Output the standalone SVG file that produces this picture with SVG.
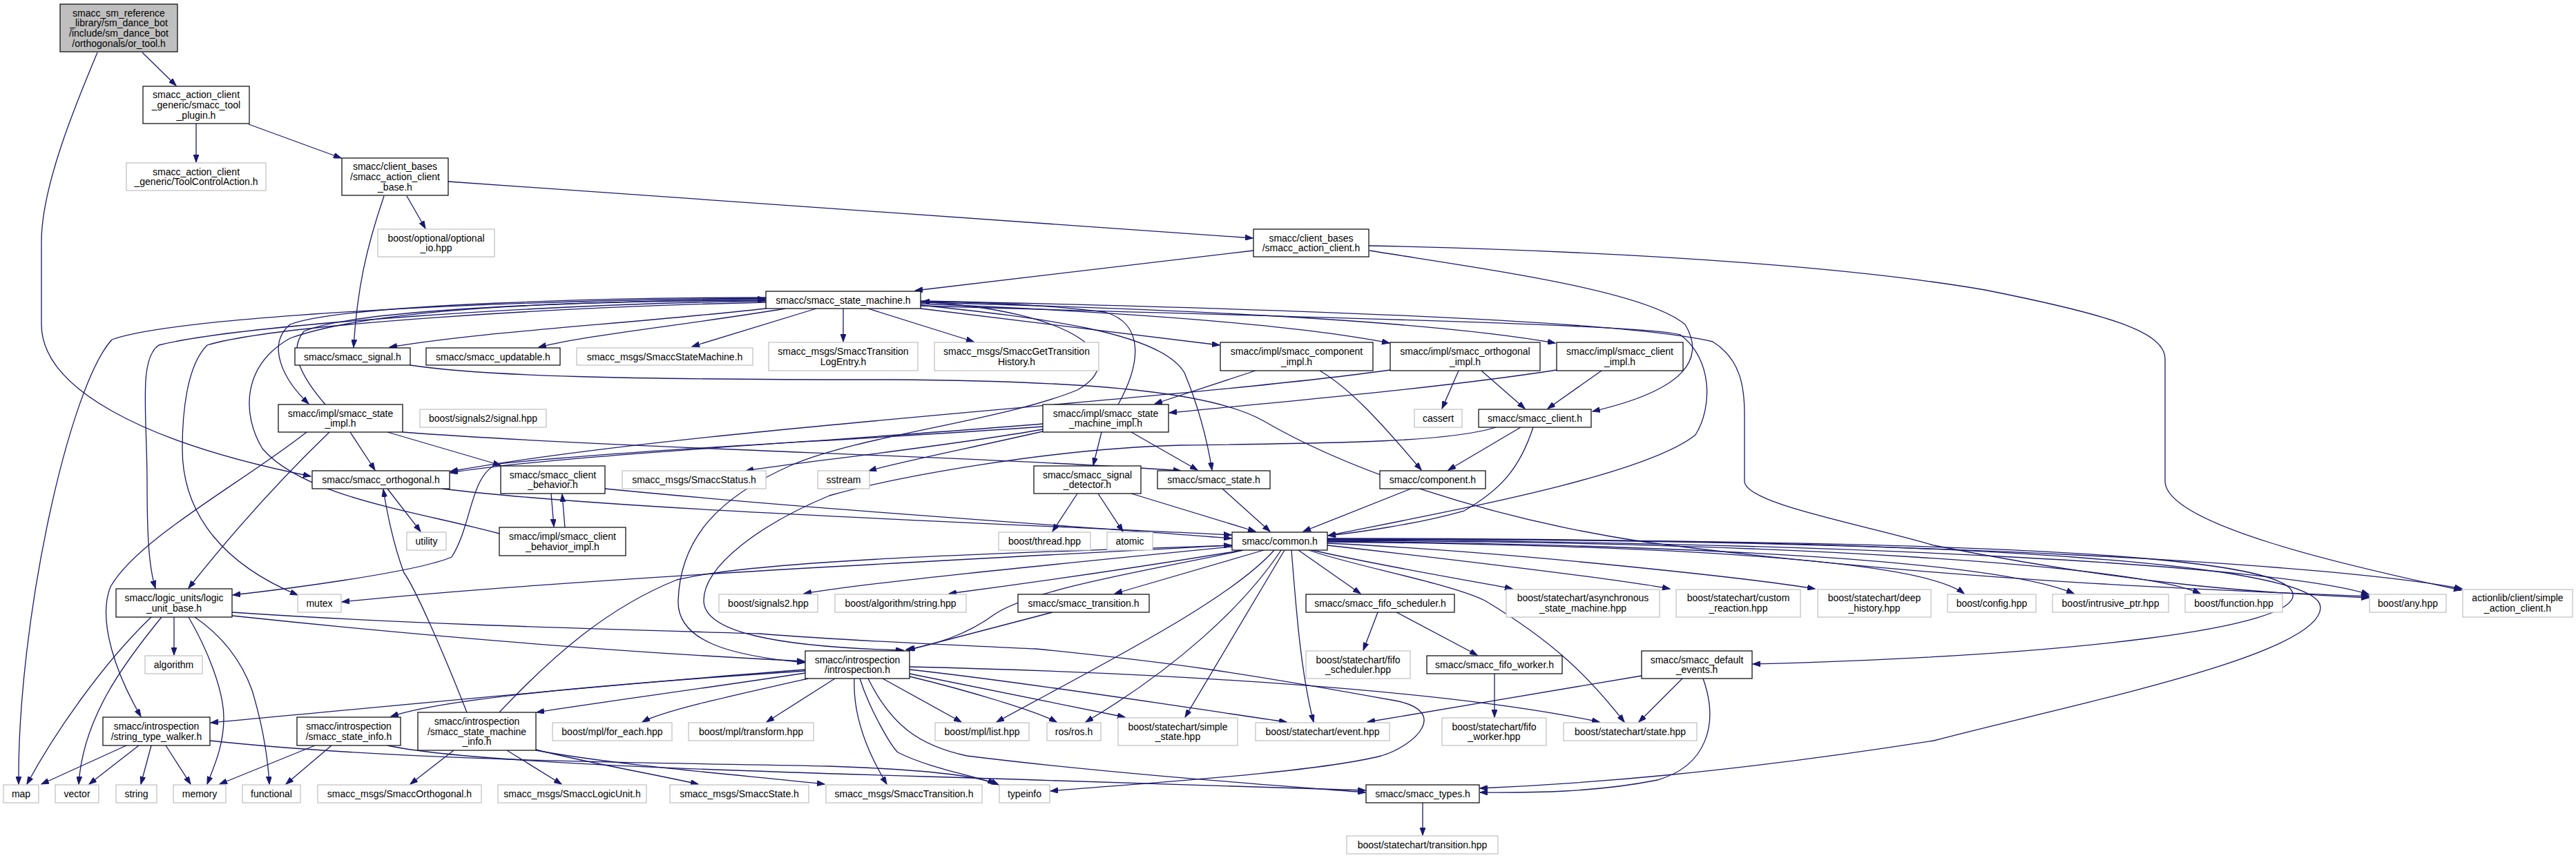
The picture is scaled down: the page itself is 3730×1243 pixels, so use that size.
<svg xmlns="http://www.w3.org/2000/svg" width="3730" height="1243" viewBox="0 0 3730 1243">
<style>
.n rect{fill:#fff;stroke:#000;stroke-width:1.2}
.g rect{fill:#fff;stroke:#bfbfbf;stroke-width:1.2}
.r rect{fill:#bfbfbf;stroke:#000;stroke-width:1.2}
text{font-family:"Liberation Sans",Arial,sans-serif;font-size:14px;fill:#000;text-anchor:middle}
#edges path{fill:none;stroke:#191970;stroke-width:1.3;marker-end:url(#ah)}
</style>
<defs>
<marker id="ah" markerUnits="userSpaceOnUse" markerWidth="12" markerHeight="8" refX="11" refY="4" orient="auto">
<path d="M0,0 L11,4 L0,8 z" fill="#191970" stroke="#191970"/>
</marker>
</defs>
<rect width="3730" height="1243" fill="#fff"/>
<g id="edges">
<path d="M206,76 L255,124"/>
<path d="M141,76 C110,150 60,270 60,350 L60,470 C60,560 200,640 450,690"/>
<path d="M284,179 L284,235"/>
<path d="M360,180 L494,229"/>
<path d="M589,284 L616,331"/>
<path d="M556,284 C530,360 517,420 512,503"/>
<path d="M649,263 C1000,290 1500,320 1814,345"/>
<path d="M1815,363 L1325,421"/>
<path d="M1983,363 C2150,390 2380,420 2440,470 C2470,520 2440,565 2306,596"/>
<path d="M1982,356 C2400,365 2700,390 2874,420 C3050,455 3135,480 3135,520 L3135,697 C3135,760 3400,820 3564,855"/>
<path d="M1109,447 C900,470 700,480 564,503"/>
<path d="M1137,447 C1000,470 850,485 780,503"/>
<path d="M1182,447 L1002,502"/>
<path d="M1221,447 L1221,495"/>
<path d="M1257,447 L1410,495"/>
<path d="M1333,447 L1766,500"/>
<path d="M1333,440 C1700,455 1900,475 2012,497"/>
<path d="M1333,438 C1800,450 2100,470 2252,497"/>
<path d="M1818,537 L1672,585"/>
<path d="M2254,536 C2100,560 1900,578 1693,598"/>
<path d="M2013,536 C1700,580 1000,620 652,683"/>
<path d="M2112,537 L2088,592"/>
<path d="M2145,537 L2208,592"/>
<path d="M2319,537 L2241,592"/>
<path d="M1911,537 C1950,560 1990,600 2058,681"/>
<path d="M2202,619 L2097,681"/>
<path d="M2220,619 C2200,680 2172,710 2120,740 C2050,760 1960,772 1923,776"/>
<path d="M2043,708 L1887,770"/>
<path d="M2166,619 C2100,640 1951,642 1710,645 C1523,650 1300,690 1201,718 C1100,760 1019,820 1019,870 C1019,915 1120,937 1308,942"/>
<path d="M1333,443 C1900,460 2380,470 2433,485 C2480,520 2480,590 2455,630 C2380,690 2100,740 1923,776"/>
<path d="M1333,436 C2000,450 2380,470 2480,495 C2520,520 2526,560 2526,600 L2526,697 C2526,730 2700,760 2800,790 C3100,850 3300,860 3430,866"/>
<path d="M1333,442 C1500,460 1680,480 1715,540 C1740,600 1750,650 1755,681"/>
<path d="M1619,586 C1650,530 1660,470 1600,452 C1500,440 1400,437 1335,437"/>
<path d="M1333,437 C1560,450 1640,520 1560,565 C1450,610 1250,630 1148,673 C1040,720 985,780 982,870 C980,930 1060,950 1165,960"/>
<path d="M594,529 C700,545 900,550 1290,550 C1600,552 1760,570 1830,610 C1950,680 2150,750 2380,785 C2800,840 3200,855 3432,864"/>
<path d="M1510,625 C1400,650 1300,670 1258,682"/>
<path d="M1510,622 C1350,650 1150,670 1080,682"/>
<path d="M1595,626 L1583,674"/>
<path d="M1638,626 L1734,681"/>
<path d="M1510,614 C1200,640 800,660 652,685"/>
<path d="M1510,618 C1200,640 940,650 720,672 C680,690 684,760 654,807 C600,830 400,855 337,862"/>
<path d="M1560,715 L1524,770"/>
<path d="M1590,715 L1626,770"/>
<path d="M1638,715 L1818,770"/>
<path d="M1770,708 L1839,770"/>
<path d="M640,708 C900,740 1500,760 1783,775"/>
<path d="M561,708 L609,770"/>
<path d="M798,715 L802,763"/>
<path d="M818,764 L814,716"/>
<path d="M876,708 C1200,740 1600,765 1783,780"/>
<path d="M723,773 C600,740 440,720 380,650 C350,600 350,530 420,490 C560,440 900,436 1108,435"/>
<path d="M471,586 C440,550 415,510 440,480 C520,445 900,436 1108,433"/>
<path d="M1109,431 C900,431 500,440 420,470 C385,500 410,550 447,585"/>
<path d="M507,626 L543,681"/>
<path d="M561,626 L725,674"/>
<path d="M583,626 C900,650 1400,660 1710,682"/>
<path d="M477,626 C400,700 330,780 273,852"/>
<path d="M444,626 C350,700 200,780 160,850 C140,900 170,980 204,1038"/>
<path d="M1109,436 C800,440 350,470 230,500 C200,520 213,600 213,700 C213,770 215,820 225,852"/>
<path d="M1109,438 C800,445 400,470 300,500 C270,530 264,600 264,650 C264,750 330,820 431,862"/>
<path d="M1109,432 C700,435 250,460 162,492 C100,560 25,900 27,1136"/>
<path d="M252,894 L252,949"/>
<path d="M219,894 C150,960 80,1060 39,1136"/>
<path d="M234,894 C180,960 120,1040 114,1136"/>
<path d="M273,894 C300,940 324,1000 324,1040 C324,1080 310,1110 300,1136"/>
<path d="M282,894 C320,920 348,953 365,1000 C380,1050 388,1100 390,1136"/>
<path d="M336,892 C600,920 900,945 1165,958"/>
<path d="M336,887 C600,905 900,912 1100,918 C1250,930 1400,935 1500,940 C1700,960 1800,975 2020,1015 C2100,1030 2050,1080 2000,1095 C1900,1120 1650,1135 1521,1146"/>
<path d="M1784,790 C1400,810 800,840 495,872"/>
<path d="M183,1080 L60,1136"/>
<path d="M201,1080 L129,1136"/>
<path d="M219,1080 L204,1136"/>
<path d="M240,1080 L276,1136"/>
<path d="M304,1073 C600,1105 1000,1105 1200,1110 C1350,1115 1420,1125 1446,1137"/>
<path d="M456,1080 L318,1136"/>
<path d="M480,1080 L414,1136"/>
<path d="M561,1080 C700,1110 1200,1120 1500,1130 C1800,1138 1900,1143 1977,1145"/>
<path d="M657,1087 L594,1136"/>
<path d="M734,1087 L813,1136"/>
<path d="M776,1086 C850,1105 940,1120 1011,1136"/>
<path d="M776,1087 C900,1110 1100,1125 1194,1136"/>
<path d="M676,1032 C640,940 600,850 585,830 C570,790 560,740 555,709"/>
<path d="M723,1032 C800,950 880,880 980,840 C1100,810 1500,800 1783,790"/>
<path d="M1166,970 C900,990 600,1020 305,1047"/>
<path d="M1166,972 C900,990 650,1010 566,1038"/>
<path d="M1166,975 C1000,1000 850,1020 777,1032"/>
<path d="M1170,983 C1050,1010 960,1030 930,1046"/>
<path d="M1209,983 L1110,1046"/>
<path d="M1237,983 C1235,1030 1250,1080 1284,1136"/>
<path d="M1245,983 C1260,1030 1290,1080 1300,1090 C1350,1115 1420,1125 1441,1136"/>
<path d="M1278,983 L1392,1046"/>
<path d="M1317,980 C1400,1000 1500,1030 1530,1046"/>
<path d="M1317,976 L1629,1039"/>
<path d="M1317,970 C1500,990 1750,1030 1863,1046"/>
<path d="M1317,966 C1700,975 2100,1000 2316,1046"/>
<path d="M1257,983 C1290,1050 1330,1080 1400,1095 C1600,1120 1850,1138 1977,1148"/>
<path d="M1524,887 L1314,942"/>
<path d="M1800,797 C1700,820 1500,850 1440,890 C1400,920 1350,935 1312,941"/>
<path d="M1784,792 C1500,820 1250,845 1164,860"/>
<path d="M1800,797 C1600,830 1450,850 1374,860"/>
<path d="M1830,797 L1614,860"/>
<path d="M1845,797 C1780,870 1600,960 1443,1046"/>
<path d="M1855,797 C1800,880 1700,970 1572,1046"/>
<path d="M1860,797 L1716,1039"/>
<path d="M1870,797 C1878,900 1885,980 1902,1046"/>
<path d="M1880,797 L1970,860"/>
<path d="M1900,797 C2000,820 2150,845 2190,853"/>
<path d="M1895,797 C1960,820 2100,845 2150,870 C2250,930 2300,980 2352,1046"/>
<path d="M1922,790 C2100,810 2350,840 2418,853"/>
<path d="M1922,787 C2200,800 2550,840 2628,853"/>
<path d="M1922,785 C2400,790 2780,810 2844,860"/>
<path d="M1922,784 C2500,790 2900,815 3003,860"/>
<path d="M1922,783 C2600,785 3100,820 3186,860"/>
<path d="M1922,782 C2700,785 3300,820 3430,861"/>
<path d="M1922,781 C2800,780 3400,820 3565,853"/>
<path d="M1922,781 C2800,782 3310,800 3320,860 C3330,910 3000,950 2538,962"/>
<path d="M1922,780 C2900,780 3360,820 3360,880 C3360,950 3000,1020 2800,1073 C2500,1120 2300,1135 2143,1142"/>
<path d="M2377,979 L1980,1046"/>
<path d="M2436,983 L2373,1046"/>
<path d="M2466,983 C2490,1050 2470,1110 2400,1130 C2300,1150 2200,1148 2143,1148"/>
<path d="M1995,887 L1974,942"/>
<path d="M2022,887 L2139,949"/>
<path d="M2164,976 L2164,1039"/>
<path d="M2060,1162 L2060,1210"/>
</g>
<g id="node-or_tool" class="r"><rect x="87" y="6" width="170" height="69"/><text x="172" y="23.5">smacc_sm_reference</text><text x="172" y="38.2">_library/sm_dance_bot</text><text x="172" y="52.8">/include/sm_dance_bot</text><text x="172" y="67.5">/orthogonals/or_tool.h</text></g>
<g id="node-tool_plugin" class="n"><rect x="207" y="125" width="154" height="54"/><text x="284" y="142.3">smacc_action_client</text><text x="284" y="157">_generic/smacc_tool</text><text x="284" y="171.7">_plugin.h</text></g>
<g id="node-ToolControlAction" class="g"><rect x="183" y="236" width="202" height="40"/><text x="284" y="253.7">smacc_action_client</text><text x="284" y="268.3">_generic/ToolControlAction.h</text></g>
<g id="node-client_base" class="n"><rect x="495" y="229" width="154" height="54"/><text x="572" y="246.3">smacc/client_bases</text><text x="572" y="261">/smacc_action_client</text><text x="572" y="275.7">_base.h</text></g>
<g id="node-optional_io" class="g"><rect x="547" y="332" width="169" height="40"/><text x="631.5" y="349.7">boost/optional/optional</text><text x="631.5" y="364.3">_io.hpp</text></g>
<g id="node-action_client" class="n"><rect x="1815" y="332" width="167" height="40"/><text x="1898.5" y="349.7">smacc/client_bases</text><text x="1898.5" y="364.3">/smacc_action_client.h</text></g>
<g id="node-state_machine" class="n"><rect x="1109" y="422" width="224" height="25"/><text x="1221" y="439.5">smacc/smacc_state_machine.h</text></g>
<g id="node-signal" class="n"><rect x="427" y="504" width="167" height="25"/><text x="510.5" y="521.5">smacc/smacc_signal.h</text></g>
<g id="node-updatable" class="n"><rect x="617" y="504" width="194" height="25"/><text x="714" y="521.5">smacc/smacc_updatable.h</text></g>
<g id="node-SmaccStateMachine" class="g"><rect x="835" y="504" width="255" height="25"/><text x="962.5" y="521.5">smacc_msgs/SmaccStateMachine.h</text></g>
<g id="node-LogEntry" class="g"><rect x="1113" y="496" width="216" height="41"/><text x="1221" y="514">smacc_msgs/SmaccTransition</text><text x="1221" y="528.7">LogEntry.h</text></g>
<g id="node-GetTransitionHistory" class="g"><rect x="1353" y="496" width="238" height="41"/><text x="1472" y="514">smacc_msgs/SmaccGetTransition</text><text x="1472" y="528.7">History.h</text></g>
<g id="node-component_impl" class="n"><rect x="1767" y="496" width="221" height="41"/><text x="1877.5" y="514">smacc/impl/smacc_component</text><text x="1877.5" y="528.7">_impl.h</text></g>
<g id="node-orthogonal_impl" class="n"><rect x="2013" y="496" width="217" height="41"/><text x="2121.5" y="514">smacc/impl/smacc_orthogonal</text><text x="2121.5" y="528.7">_impl.h</text></g>
<g id="node-client_impl" class="n"><rect x="2254" y="496" width="183" height="41"/><text x="2345.5" y="514">smacc/impl/smacc_client</text><text x="2345.5" y="528.7">_impl.h</text></g>
<g id="node-state_impl" class="n"><rect x="403" y="586" width="180" height="40"/><text x="493" y="603.7">smacc/impl/smacc_state</text><text x="493" y="618.3">_impl.h</text></g>
<g id="node-signal_hpp" class="g"><rect x="608" y="593" width="183" height="26"/><text x="699.5" y="611">boost/signals2/signal.hpp</text></g>
<g id="node-state_machine_impl" class="n"><rect x="1510" y="586" width="182" height="40"/><text x="1601" y="603.7">smacc/impl/smacc_state</text><text x="1601" y="618.3">_machine_impl.h</text></g>
<g id="node-cassert" class="g"><rect x="2048" y="593" width="69" height="26"/><text x="2082.5" y="611">cassert</text></g>
<g id="node-client" class="n"><rect x="2141" y="593" width="163" height="26"/><text x="2222.5" y="611">smacc/smacc_client.h</text></g>
<g id="node-orthogonal" class="n"><rect x="452" y="682" width="199" height="26"/><text x="551.5" y="700">smacc/smacc_orthogonal.h</text></g>
<g id="node-client_behavior" class="n"><rect x="725" y="675" width="151" height="40"/><text x="800.5" y="692.7">smacc/smacc_client</text><text x="800.5" y="707.3">_behavior.h</text></g>
<g id="node-SmaccStatus" class="g"><rect x="901" y="682" width="208" height="26"/><text x="1005" y="700">smacc_msgs/SmaccStatus.h</text></g>
<g id="node-sstream" class="g"><rect x="1184" y="682" width="75" height="26"/><text x="1221.5" y="700">sstream</text></g>
<g id="node-signal_detector" class="n"><rect x="1497" y="675" width="155" height="40"/><text x="1574.5" y="692.7">smacc/smacc_signal</text><text x="1574.5" y="707.3">_detector.h</text></g>
<g id="node-state" class="n"><rect x="1676" y="682" width="163" height="26"/><text x="1757.5" y="700">smacc/smacc_state.h</text></g>
<g id="node-component" class="n"><rect x="1998" y="682" width="153" height="26"/><text x="2074.5" y="700">smacc/component.h</text></g>
<g id="node-utility" class="g"><rect x="589" y="771" width="57" height="26"/><text x="617.5" y="789">utility</text></g>
<g id="node-client_behavior_impl" class="n"><rect x="723" y="764" width="183" height="41"/><text x="814.5" y="782.2">smacc/impl/smacc_client</text><text x="814.5" y="796.8">_behavior_impl.h</text></g>
<g id="node-thread" class="g"><rect x="1446" y="771" width="133" height="26"/><text x="1512.5" y="789">boost/thread.hpp</text></g>
<g id="node-atomic" class="g"><rect x="1603" y="771" width="66" height="26"/><text x="1636" y="789">atomic</text></g>
<g id="node-common" class="n"><rect x="1784" y="771" width="138" height="26"/><text x="1853" y="789">smacc/common.h</text></g>
<g id="node-logic_unit_base" class="n"><rect x="168" y="853" width="168" height="41"/><text x="252" y="871.2">smacc/logic_units/logic</text><text x="252" y="885.8">_unit_base.h</text></g>
<g id="node-mutex" class="g"><rect x="431" y="861" width="63" height="26"/><text x="462.5" y="879">mutex</text></g>
<g id="node-signals2" class="g"><rect x="1041" y="861" width="143" height="26"/><text x="1112.5" y="879">boost/signals2.hpp</text></g>
<g id="node-algorithm_string" class="g"><rect x="1209" y="861" width="190" height="26"/><text x="1304" y="879">boost/algorithm/string.hpp</text></g>
<g id="node-transition" class="n"><rect x="1474" y="861" width="190" height="26"/><text x="1569" y="879">smacc/smacc_transition.h</text></g>
<g id="node-fifo_scheduler" class="n"><rect x="1891" y="861" width="215" height="26"/><text x="1998.5" y="879">smacc/smacc_fifo_scheduler.h</text></g>
<g id="node-asynchronous" class="g"><rect x="2181" y="854" width="222" height="40"/><text x="2292" y="871.2">boost/statechart/asynchronous</text><text x="2292" y="885.8">_state_machine.hpp</text></g>
<g id="node-custom_reaction" class="g"><rect x="2427" y="854" width="180" height="40"/><text x="2517" y="871.2">boost/statechart/custom</text><text x="2517" y="885.8">_reaction.hpp</text></g>
<g id="node-deep_history" class="g"><rect x="2632" y="854" width="164" height="40"/><text x="2714" y="871.2">boost/statechart/deep</text><text x="2714" y="885.8">_history.hpp</text></g>
<g id="node-config" class="g"><rect x="2820" y="861" width="128" height="26"/><text x="2884" y="879">boost/config.hpp</text></g>
<g id="node-intrusive_ptr" class="g"><rect x="2972" y="861" width="168" height="26"/><text x="3056" y="879">boost/intrusive_ptr.hpp</text></g>
<g id="node-function" class="g"><rect x="3164" y="861" width="141" height="26"/><text x="3234.5" y="879">boost/function.hpp</text></g>
<g id="node-any" class="g"><rect x="3431" y="861" width="111" height="26"/><text x="3486.5" y="879">boost/any.hpp</text></g>
<g id="node-simple_action_client" class="g"><rect x="3566" y="854" width="159" height="40"/><text x="3645.5" y="871.2">actionlib/client/simple</text><text x="3645.5" y="885.8">_action_client.h</text></g>
<g id="node-introspection" class="n"><rect x="1166" y="943" width="151" height="40"/><text x="1241.5" y="960.7">smacc/introspection</text><text x="1241.5" y="975.3">/introspection.h</text></g>
<g id="node-algorithm" class="g"><rect x="210" y="950" width="83" height="26"/><text x="251.5" y="968">algorithm</text></g>
<g id="node-fifo_scheduler_hpp" class="g"><rect x="1891" y="943" width="151" height="40"/><text x="1966.5" y="960.7">boost/statechart/fifo</text><text x="1966.5" y="975.3">_scheduler.hpp</text></g>
<g id="node-fifo_worker" class="n"><rect x="2066" y="950" width="196" height="26"/><text x="2164" y="968">smacc/smacc_fifo_worker.h</text></g>
<g id="node-default_events" class="n"><rect x="2377" y="943" width="160" height="40"/><text x="2457" y="960.7">smacc/smacc_default</text><text x="2457" y="975.3">_events.h</text></g>
<g id="node-string_type_walker" class="n"><rect x="149" y="1039" width="155" height="41"/><text x="226.5" y="1057.2">smacc/introspection</text><text x="226.5" y="1071.8">/string_type_walker.h</text></g>
<g id="node-state_info" class="n"><rect x="430" y="1039" width="150" height="41"/><text x="505" y="1057.2">smacc/introspection</text><text x="505" y="1071.8">/smacc_state_info.h</text></g>
<g id="node-state_machine_info" class="n"><rect x="605" y="1032" width="171" height="55"/><text x="690.5" y="1049.8">smacc/introspection</text><text x="690.5" y="1064.5">/smacc_state_machine</text><text x="690.5" y="1079.2">_info.h</text></g>
<g id="node-for_each" class="g"><rect x="800" y="1047" width="173" height="26"/><text x="886.5" y="1064.5">boost/mpl/for_each.hpp</text></g>
<g id="node-transform" class="g"><rect x="997" y="1047" width="181" height="26"/><text x="1087.5" y="1064.5">boost/mpl/transform.hpp</text></g>
<g id="node-list" class="g"><rect x="1354" y="1047" width="136" height="26"/><text x="1422" y="1064.5">boost/mpl/list.hpp</text></g>
<g id="node-ros" class="g"><rect x="1516" y="1047" width="78" height="26"/><text x="1555" y="1064.5">ros/ros.h</text></g>
<g id="node-simple_state" class="g"><rect x="1619" y="1040" width="173" height="40"/><text x="1705.5" y="1057.7">boost/statechart/simple</text><text x="1705.5" y="1072.3">_state.hpp</text></g>
<g id="node-event" class="g"><rect x="1818" y="1047" width="194" height="26"/><text x="1915" y="1064.5">boost/statechart/event.hpp</text></g>
<g id="node-fifo_worker_hpp" class="g"><rect x="2088" y="1040" width="151" height="40"/><text x="2163.5" y="1057.7">boost/statechart/fifo</text><text x="2163.5" y="1072.3">_worker.hpp</text></g>
<g id="node-state_hpp" class="g"><rect x="2264" y="1047" width="193" height="26"/><text x="2360.5" y="1064.5">boost/statechart/state.hpp</text></g>
<g id="node-map" class="g"><rect x="5" y="1137" width="51" height="26"/><text x="30.5" y="1154.5">map</text></g>
<g id="node-vector" class="g"><rect x="80" y="1137" width="63" height="26"/><text x="111.5" y="1154.5">vector</text></g>
<g id="node-string" class="g"><rect x="168" y="1137" width="59" height="26"/><text x="197.5" y="1154.5">string</text></g>
<g id="node-memory" class="g"><rect x="251" y="1137" width="76" height="26"/><text x="289" y="1154.5">memory</text></g>
<g id="node-functional" class="g"><rect x="351" y="1137" width="84" height="26"/><text x="393" y="1154.5">functional</text></g>
<g id="node-SmaccOrthogonal" class="g"><rect x="460" y="1137" width="237" height="26"/><text x="578.5" y="1154.5">smacc_msgs/SmaccOrthogonal.h</text></g>
<g id="node-SmaccLogicUnit" class="g"><rect x="721" y="1137" width="215" height="26"/><text x="828.5" y="1154.5">smacc_msgs/SmaccLogicUnit.h</text></g>
<g id="node-SmaccState" class="g"><rect x="970" y="1137" width="201" height="26"/><text x="1070.5" y="1154.5">smacc_msgs/SmaccState.h</text></g>
<g id="node-SmaccTransition" class="g"><rect x="1196" y="1137" width="226" height="26"/><text x="1309" y="1154.5">smacc_msgs/SmaccTransition.h</text></g>
<g id="node-typeinfo" class="g"><rect x="1447" y="1137" width="73" height="26"/><text x="1483.5" y="1154.5">typeinfo</text></g>
<g id="node-types" class="n"><rect x="1978" y="1137" width="164" height="26"/><text x="2060" y="1154.5">smacc/smacc_types.h</text></g>
<g id="node-transition_hpp" class="g"><rect x="1950" y="1211" width="219" height="26"/><text x="2059.5" y="1229">boost/statechart/transition.hpp</text></g>
</svg>
